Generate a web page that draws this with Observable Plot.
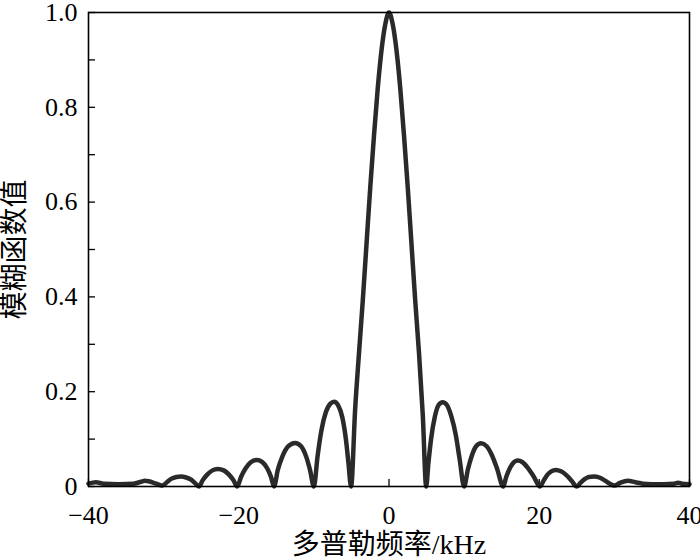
<!DOCTYPE html>
<html><head><meta charset="utf-8">
<script src="https://cdn.jsdelivr.net/npm/d3@7"></script>
<script src="https://cdn.jsdelivr.net/npm/@observablehq/plot@0.6"></script>
<style>body{margin:0;background:#fff}</style>
</head><body><div id="chart"></div>
<script>
const freq = [
  -40, -39, -38, -36, -34, -33, -32.5, -32, -31, -30.2,
  -29.5, -29, -28.3, -27.7, -27, -26.3, -25.8, -25.3,
  -24.8, -24.2, -23.5, -22.8, -22, -21.3, -20.7, -20.2,
  -19.7, -19.1, -18.4, -17.6, -16.9, -16.2, -15.7, -15.3,
  -14.8, -14.2, -13.4, -12.5, -11.7, -11, -10.5, -10,
  -9.5, -9, -8.4, -7.8, -7.3, -6.8, -6.2, -5.7, -5.4, -5.05,
  -4.5, -4, -3.5, -3, -2.5, -2, -1.5, -1, -0.5, 0,
  0.5, 1, 1.5, 2, 2.5, 3, 3.5, 4, 4.5, 4.95,
  5.25, 5.6, 6.1, 6.6, 7.15, 7.7, 8.3, 8.9, 9.4, 10,
  10.5, 11, 11.6, 12.25, 13, 13.7, 14.4, 15.2,
  15.6, 16.1, 16.6, 17.1, 17.8, 18.5, 19.3, 20.1,
  20.6, 21.1, 21.6, 22.2, 22.9, 23.6, 24.3, 25,
  25.5, 26, 26.6, 27.3, 28, 28.7, 29.4, 30,
  30.8, 31.8, 32.8, 33.8, 35, 36.5, 38, 38.5, 39, 40
];
const ambiguity = [
  0.006, 0.009, 0.006, 0.005, 0.006, 0.010, 0.012, 0.011, 0.006, 0.002,
  0.010, 0.016, 0.020, 0.021, 0.019, 0.014, 0.007, 0.000,
  0.013, 0.025, 0.034, 0.037, 0.034, 0.025, 0.013, 0.000,
  0.020, 0.038, 0.051, 0.056, 0.052, 0.038, 0.020, 0.000,
  0.035, 0.063, 0.085, 0.092, 0.085, 0.062, 0.034, 0.000,
  0.065, 0.118, 0.157, 0.175, 0.179, 0.172, 0.145, 0.095, 0.050, 0.000,
  0.165, 0.280, 0.390, 0.510, 0.630, 0.740, 0.840, 0.920, 0.975, 1.000,
  0.975, 0.920, 0.840, 0.740, 0.630, 0.510, 0.390, 0.280, 0.150, 0.000,
  0.050, 0.100, 0.147, 0.172, 0.178, 0.172, 0.148, 0.108, 0.058, 0.000,
  0.036, 0.064, 0.085, 0.091, 0.085, 0.066, 0.037, 0.000,
  0.020, 0.039, 0.051, 0.055, 0.051, 0.039, 0.020, 0.000,
  0.013, 0.025, 0.032, 0.035, 0.032, 0.024, 0.012, 0.000,
  0.008, 0.015, 0.020, 0.021, 0.019, 0.013, 0.006, 0.002,
  0.008, 0.012, 0.009, 0.006, 0.005, 0.005, 0.006, 0.008, 0.006, 0.005
];
const xTicks = [-40, -20, 0, 20, 40];
const yTicksMajor = [0, 0.2, 0.4, 0.6, 0.8, 1.0];
const yTicksAll = [0, 0.1, 0.2, 0.3, 0.4, 0.5, 0.6, 0.7, 0.8, 0.9, 1.0];
const yTickLabels = ["0", "0.2", "0.4", "0.6", "0.8", "1.0"];
const xLabel = "多普勒频率/kHz";
const yLabel = "模糊函数值";

const data = freq.map((f, i) => ({f, v: ambiguity[i]}));
const fmtX = d => d < 0 ? "\u2212" + Math.abs(d) : String(d);
const fmtY = d => yTickLabels[yTicksMajor.findIndex(t => Math.abs(t - d) < 1e-9)];
const SERIF = "'Liberation Serif', 'DejaVu Serif', serif";
const LABELFONT = "'Liberation Serif', 'Noto Sans CJK SC', serif";

const chart = Plot.plot({
  width: 700, height: 560,
  marginLeft: 88, marginRight: 11, marginTop: 12, marginBottom: 74,
  style: {fontFamily: SERIF, fontSize: "26px", color: "#000", background: "#fff"},
  x: {domain: [-40, 40]},
  y: {domain: [0, 1]},
  marks: [
    Plot.axisX({ticks: xTicks, tickSize: 0, tickPadding: 19, tickFormat: fmtX, label: null, fontSize: 26, fontFamily: SERIF, fontVariant: "normal"}),
    Plot.axisX({ticks: xTicks, tickSize: -7, tickFormat: () => "", label: null, strokeWidth: 1.3}),
    Plot.axisY({ticks: yTicksMajor, tickSize: 0, tickPadding: 11, tickFormat: fmtY, label: null, fontSize: 26, fontFamily: SERIF, fontVariant: "normal"}),
    Plot.axisY({ticks: yTicksAll, tickSize: -7, tickFormat: () => "", label: null, strokeWidth: 1.3}),
    Plot.line(data, {x: "f", y: "v", stroke: "#2a2a2a", strokeWidth: 4.5, curve: "monotone-x"}),
    Plot.frame({stroke: "#000", strokeWidth: 1.6}),
    Plot.text([xLabel], {frameAnchor: "bottom", dy: 67, lineAnchor: "bottom", textAnchor: "middle", fontSize: 28, fontFamily: LABELFONT, fill: "#000"}),
    Plot.text([yLabel], {frameAnchor: "left", dx: -73, rotate: -90, textAnchor: "middle", fontSize: 28, fontFamily: LABELFONT, fill: "#000"})
  ]
});
document.getElementById("chart").append(chart);
</script>
</body></html>
